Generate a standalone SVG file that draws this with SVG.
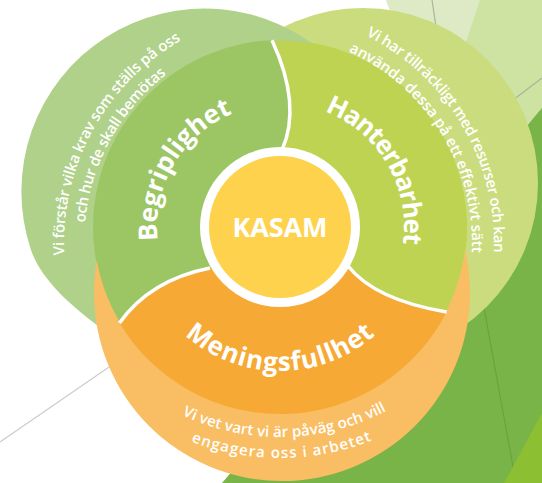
<svg xmlns="http://www.w3.org/2000/svg" width="542" height="483" viewBox="0 0 542 483">
<style>
.t{font-family:"Open Sans","Noto Sans","DejaVu Sans",sans-serif;font-weight:600;fill:#ffffff}
.h{font-size:26px;font-weight:700}
.s{font-size:15px}
.k{font-size:27px;font-weight:700}
.dv{fill:none;stroke:#ffffff;stroke-width:3.5}
.gl{fill:none;stroke-width:1.2}
</style>
<defs>
<mask id="outside" maskUnits="userSpaceOnUse" x="0" y="0" width="542" height="483">
<rect width="542" height="483" fill="#ffffff"/>
<circle cx="280" cy="227" r="186.3" fill="#000000"/>
</mask>
<path id="pBeg" d="M173.5,288.5 A123,123 0 0 1 282.1,104"/>
<path id="pHan" d="M277.8,103 A124,124 0 0 1 387.4,289"/>
<path id="pMen" d="M144.7,276.3 A144,144 0 0 0 415.3,276.3"/>
<path id="pL1" d="M95.4,360 A234,234 0 0 1 285.75,9.3"/>
<path id="pL2" d="M112.7,350 A214,214 0 0 1 288.67,29.2"/>
<path id="pR1" d="M266.05,11.04 A232,232 0 0 1 466.8,351.9"/>
<path id="pR2" d="M262,33 A210,210 0 0 1 449.1,338.3"/>
<path id="pB1" d="M81.7,322.5 A229,229 0 0 0 483,314.1"/>
<path id="pB2" d="M63.5,333 A250,250 0 0 0 498,330.3"/>
</defs>

<g id="background">
<rect width="542" height="483" fill="#ffffff"/>
<polygon points="386,0 482,0 486,65 400,40" fill="#deeac6"/>
<polygon points="480,0 542,0 542,110 460,190 460,60" fill="#cee2a2"/>
<line x1="432" y1="0" x2="438" y2="40" class="gl" stroke="#a9b59b"/>
<line x1="505" y1="106" x2="542" y2="78" class="gl" stroke="#a9b59b"/>
<polygon points="542,108 542,483 222,483" fill="#79b449"/>
<line x1="468" y1="220" x2="516" y2="483" class="gl" stroke="#6aa33d"/>
<polygon points="542,413 542,483 504,483" fill="#8cbf31"/>
<line x1="0" y1="442" x2="160" y2="332" class="gl" stroke="#cccccc" stroke-width="1.5"/>
</g>

<g id="node-hanterbarhet">
<circle cx="363" cy="183" r="175" fill="#cbdc7e" mask="url(#outside)"/>
<path d="M272,40.2 Q302,105 282,150 L280,227 L348,266 Q375,300 446.6,312 A187,187 0 0 0 272,40.2 Z" fill="#bed352"/>
<text class="t h" text-anchor="middle"><textPath href="#pHan" startOffset="50%" textLength="166">Hanterbarhet</textPath></text>
<text class="t s" text-anchor="middle"><textPath href="#pR1" startOffset="50%" textLength="266">Vi har tillräckligt med resurser och kan</textPath></text>
<text class="t s" text-anchor="middle"><textPath href="#pR2" startOffset="50%" textLength="250">använda dessa på ett effektivt sätt</textPath></text>
</g>

<g id="node-begriplighet">
<path d="M330,58.4 A183,183 0 0 0 31,250 C40,277 68,305 108,333 Z" fill="#b0d18a" mask="url(#outside)"/>
<path d="M272,40.2 A187,187 0 0 0 119.5,323 Q150,280 210,268 L280,227 L282,150 Q302,105 272,40.2 Z" fill="#9cc664"/>
<text class="t h" text-anchor="middle"><textPath href="#pBeg" startOffset="50%" textLength="158">Begriplighet</textPath></text>
<text class="t s" text-anchor="middle"><textPath href="#pL1" startOffset="50%" textLength="257">Vi förstår vilka krav som ställs på oss</textPath></text>
<text class="t s" text-anchor="middle"><textPath href="#pL2" startOffset="50%" textLength="174">och hur de skall bemötas</textPath></text>
</g>

<g id="node-meningsfullhet">
<circle cx="282" cy="293" r="188" fill="#f9be63" mask="url(#outside)"/>
<path d="M119.5,323 Q150,280 210,268 L280,227 L348,266 Q375,300 446.6,312 A187,187 0 0 1 119.5,323 Z" fill="#f7a935"/>
<text class="t h" text-anchor="middle"><textPath href="#pMen" startOffset="50%" textLength="208">Meningsfullhet</textPath></text>
<text class="t s" text-anchor="middle"><textPath href="#pB1" startOffset="50%" textLength="212">Vi vet vart vi är påväg och vill</textPath></text>
<text class="t s" text-anchor="middle"><textPath href="#pB2" startOffset="50%" textLength="185">engagera oss i arbetet</textPath></text>
</g>

<g id="connectors">
<path class="dv" d="M272,40.2 Q302,105 282,150"/>
<path class="dv" d="M119.5,323 Q150,280 210,268"/>
<path class="dv" d="M348,266 Q375,300 446.6,312"/>
</g>

<g id="node-kasam">
<circle cx="280" cy="227" r="80" fill="#ffffff"/>
<circle cx="280" cy="227" r="71" fill="#fed24d"/>
<text class="t k" x="280" y="237" text-anchor="middle" textLength="95">KASAM</text>
</g>
</svg>
